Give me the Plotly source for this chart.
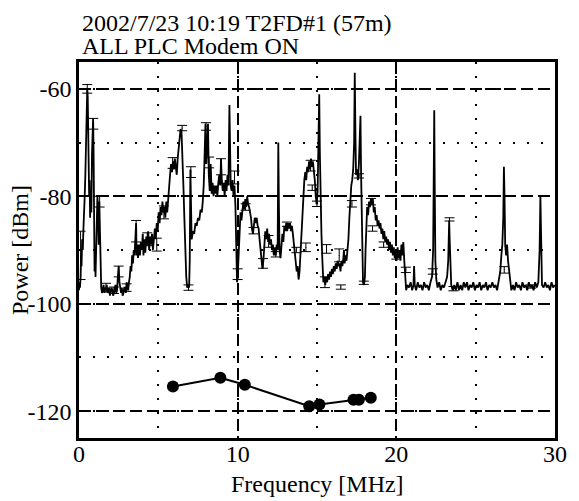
import plotly.graph_objects as go

# ---- spectrum trace (frequency MHz, power dBm) ----
SPEC_F = [
    0.00, 0.03, 0.06, 0.10, 0.13, 0.16, 0.20, 0.24, 0.28, 0.32,
    0.36, 0.40, 0.44, 0.48, 0.52, 0.55, 0.58, 0.61, 0.64, 0.67,
    0.70, 0.74, 0.78, 0.82, 0.86, 0.89, 0.92, 0.95, 0.98, 1.01,
    1.04, 1.08, 1.12, 1.16, 1.20, 1.24, 1.28, 1.32, 1.36, 1.40,
    1.45, 1.50, 1.55, 1.60, 1.65, 1.70, 1.75, 1.80, 1.85, 1.90,
    1.95, 2.00, 2.05, 2.10, 2.15, 2.20, 2.25, 2.30, 2.35, 2.40,
    2.45, 2.50, 2.55, 2.60, 2.65, 2.70, 2.75, 2.80, 2.85, 2.90,
    2.95, 3.00, 3.05, 3.10, 3.15, 3.20, 3.25, 3.30, 3.35, 3.40,
    3.45, 3.50, 3.55, 3.60, 3.63, 3.68, 3.72, 3.78, 3.84, 3.90,
    3.96, 4.02, 4.06, 4.12, 4.18, 4.24, 4.30, 4.36, 4.42, 4.48,
    4.54, 4.60, 4.66, 4.72, 4.78, 4.84, 4.90, 4.96, 5.02, 5.08,
    5.14, 5.20, 5.26, 5.32, 5.38, 5.44, 5.50, 5.56, 5.62, 5.68,
    5.74, 5.80, 5.86, 5.92, 5.98, 6.04, 6.10, 6.16, 6.22, 6.28,
    6.34, 6.40, 6.46, 6.52, 6.58, 6.64, 6.70, 6.76, 6.82, 6.88,
    6.94, 6.98, 7.02, 7.06, 7.10, 7.18, 7.26, 7.34, 7.42, 7.50,
    7.58, 7.66, 7.74, 7.80, 7.86, 7.92, 7.97, 8.02, 8.08, 8.13,
    8.18, 8.24, 8.30, 8.36, 8.42, 8.48, 8.54, 8.60, 8.66, 8.72,
    8.78, 8.84, 8.90, 8.95, 9.00, 9.06, 9.12, 9.18, 9.24, 9.30,
    9.36, 9.42, 9.48, 9.52, 9.56, 9.62, 9.68, 9.74, 9.80, 9.86,
    9.92, 9.96, 10.00, 10.04, 10.08, 10.12, 10.18, 10.24, 10.30, 10.36,
    10.42, 10.48, 10.54, 10.60, 10.66, 10.72, 10.78, 10.84, 10.90, 10.96,
    11.02, 11.08, 11.14, 11.20, 11.26, 11.32, 11.38, 11.44, 11.50, 11.56,
    11.62, 11.68, 11.74, 11.80, 11.86, 11.92, 11.98, 12.04, 12.10, 12.16,
    12.22, 12.28, 12.34, 12.40, 12.46, 12.52, 12.56, 12.60, 12.64, 12.70,
    12.76, 12.82, 12.88, 12.94, 13.00, 13.06, 13.12, 13.18, 13.24, 13.30,
    13.36, 13.42, 13.48, 13.54, 13.60, 13.66, 13.72, 13.78, 13.84, 13.90,
    13.96, 14.02, 14.08, 14.14, 14.20, 14.26, 14.32, 14.38, 14.44, 14.50,
    14.56, 14.62, 14.68, 14.74, 14.80, 14.86, 14.92, 14.98, 15.04, 15.10,
    15.14, 15.18, 15.22, 15.28, 15.34, 15.40, 15.46, 15.52, 15.58, 15.64,
    15.70, 15.76, 15.82, 15.88, 15.94, 16.00, 16.06, 16.12, 16.18, 16.24,
    16.30, 16.36, 16.42, 16.48, 16.54, 16.60, 16.66, 16.70, 16.74, 16.80,
    16.86, 16.92, 16.98, 17.04, 17.10, 17.16, 17.22, 17.28, 17.34, 17.38,
    17.42, 17.46, 17.52, 17.58, 17.64, 17.70, 17.74, 17.78, 17.82, 17.86,
    17.90, 17.96, 18.02, 18.06, 18.10, 18.16, 18.22, 18.28, 18.34, 18.40,
    18.46, 18.52, 18.58, 18.64, 18.70, 18.76, 18.82, 18.88, 18.94, 19.00,
    19.06, 19.12, 19.18, 19.24, 19.30, 19.36, 19.42, 19.48, 19.54, 19.60,
    19.66, 19.72, 19.78, 19.84, 19.90, 19.96, 20.02, 20.08, 20.14, 20.20,
    20.26, 20.32, 20.38, 20.44, 20.50, 20.56, 20.62, 20.70, 20.80, 20.90,
    21.00, 21.08, 21.12, 21.16, 21.25, 21.35, 21.45, 21.55, 21.65, 21.75,
    21.85, 21.95, 22.05, 22.15, 22.25, 22.32, 22.36, 22.39, 22.42, 22.46,
    22.52, 22.60, 22.70, 22.80, 22.90, 23.00, 23.10, 23.20, 23.27, 23.31,
    23.33, 23.36, 23.40, 23.46, 23.55, 23.65, 23.75, 23.85, 23.95, 24.05,
    24.15, 24.25, 24.35, 24.45, 24.55, 24.65, 24.75, 24.85, 24.95, 25.05,
    25.15, 25.25, 25.35, 25.45, 25.55, 25.65, 25.75, 25.85, 25.95, 26.05,
    26.15, 26.25, 26.35, 26.45, 26.55, 26.62, 26.68, 26.74, 26.78, 26.82,
    26.86, 26.92, 26.98, 27.04, 27.10, 27.18, 27.25, 27.35, 27.45, 27.55,
    27.65, 27.75, 27.85, 27.95, 28.05, 28.15, 28.25, 28.35, 28.45, 28.55,
    28.65, 28.75, 28.85, 28.95, 29.03, 29.08, 29.12, 29.18, 29.28, 29.38,
    29.48, 29.58, 29.68, 29.78, 29.88, 29.98,
]
SPEC_P = [
    -97.5, -96, -97, -95, -91, -93, -88, -90, -86, -84,
    -80, -76, -70, -63, -60, -61.5, -66, -74, -80, -77,
    -84, -79, -83, -72, -66, -65.5, -72, -84, -94, -90,
    -95, -88, -85, -80, -82, -89, -81, -86, -93, -97,
    -98, -97, -96.5, -98, -97, -97.5, -96.5, -98, -97.5, -97,
    -98.5, -98, -97, -97.5, -98.5, -98, -97, -96.5, -98, -97.5,
    -95, -93, -96, -97.5, -98, -97, -98.5, -98, -97, -97,
    -98, -96, -97, -97.5, -96, -95, -93, -94, -91, -92.5,
    -90, -91, -88, -85, -91, -89, -91.5, -89, -91, -88.5,
    -90, -87, -91, -88, -90.5, -87.5, -89, -86.5, -90, -87.5,
    -89, -87, -90, -88, -86, -88, -85, -86.5, -83, -85,
    -82, -83.5, -81, -83, -82, -84, -81, -83, -80, -78,
    -76, -74, -75.5, -73.5, -75, -73, -74.5, -76, -73, -71,
    -69, -67.5, -68, -72, -78, -84, -90, -95, -97, -96.5,
    -97, -92, -75, -86, -88, -86.5, -87, -85, -85.5, -84,
    -84.5, -82.5, -83, -81, -78, -72, -66.5, -74, -70, -66.5,
    -76, -79, -74, -79.5, -77.5, -80, -78, -79.5, -78, -80,
    -77.5, -76, -78, -73, -77, -79, -77.5, -80, -77, -79,
    -76, -78, -63, -72, -78, -79, -77, -80, -78, -82,
    -90, -96, -95, -92, -88, -86, -83, -84.5, -82, -81,
    -82.5, -80.5, -82, -80, -81.5, -82, -83, -84, -86, -87,
    -85.5, -84, -85, -84, -85.5, -86, -88, -90, -92, -93.5,
    -92, -89, -86.5, -88, -86, -88.5, -87, -89, -88, -90,
    -89, -91, -89.5, -91, -89, -90, -70, -82, -90, -91.5,
    -89, -87, -88.5, -85.5, -86.5, -85, -86.5, -85, -86, -85,
    -86.5, -85.5, -87, -89, -90.5, -92, -94, -93, -95.5, -94,
    -90, -86, -82, -79, -77, -75.5, -77, -74.5, -75.5, -73.5,
    -75, -73, -74.5, -73.5, -75, -77, -80, -81.5, -79, -70,
    -61, -72, -80, -87, -92, -96, -95, -96.5, -95, -96,
    -94.5, -95.5, -94, -95, -93.5, -94.5, -93, -94, -92.5, -93.5,
    -92, -93, -92.5, -94, -92, -93, -91.5, -90, -92.5, -91,
    -92, -90, -88, -84, -80, -78, -77, -75, -70, -57,
    -68, -76, -75, -77, -74, -66, -65, -76, -84, -92,
    -96, -96.5, -95, -90, -84, -82, -83.5, -81, -82, -80.5,
    -81.5, -80.5, -83, -82, -84.5, -83.5, -85.5, -84.5, -86, -85,
    -87, -86, -88, -86.5, -88.5, -87.5, -89, -88, -90, -88.5,
    -90.5, -89, -91, -89.5, -91.5, -90, -92, -89.5, -91.5, -90,
    -92, -89, -91, -88.5, -92, -96, -97.5, -96.5, -97, -96,
    -97.5, -96.5, -93, -96.5, -97.5, -96, -97, -96.5, -97.5, -96,
    -97, -96.5, -97.5, -96, -95, -90, -75, -64, -78, -92,
    -95.5, -97, -96, -97.5, -96.5, -97, -96, -95, -92, -86,
    -84.5, -88, -94, -96.5, -97.5, -96.5, -97.5, -96, -97.5, -96.5,
    -97.5, -96, -97, -96, -97.5, -96.5, -97, -96, -97.5, -96.5,
    -97, -96, -97.5, -96.5, -97, -96, -97.5, -96.5, -97, -96,
    -97, -96.5, -97.5, -96, -94, -91, -89, -84, -74.5, -80,
    -89, -91, -89, -92, -94, -96, -97.5, -96.5, -97.5, -96,
    -97, -96.5, -97.5, -96, -97, -96.5, -97.5, -96, -97, -96.5,
    -97.5, -96, -97, -96, -90, -80, -92, -96.5, -97, -96,
    -97, -96.5, -97.5, -96, -97, -96.5,
]
assert len(SPEC_F) == len(SPEC_P)

# ---- max/min hold caps (centre, +/- spread) ----
ERR_F = [0.10, 0.52, 0.90, 1.30, 1.70, 2.20, 2.50, 3.00, 3.60, 4.30,
         4.90, 5.35, 5.90, 6.50, 6.90, 7.05, 8.00, 8.20, 8.95, 9.80,
         10.00, 10.50, 11.00, 11.60, 11.95, 12.40, 13.10, 13.70, 14.30, 14.60,
         14.70, 15.00, 15.50, 15.60, 16.40, 16.50, 17.20, 17.65, 17.95, 18.40,
         18.50, 19.20, 20.00, 20.60, 22.30, 23.35, 23.60, 26.80, 28.50]
ERR_P = [-91, -60, -66.5, -81, -97, -97.5, -94, -97, -86.5, -88,
         -89, -83, -73.8, -67.3, -97, -75.5, -67, -73.7, -74.5, -76.5,
         -94.5, -82, -86.4, -92.5, -88.4, -90.8, -85.2, -90, -89.5, -74.3,
         -78.4, -81.4, -96, -89.8, -91, -96.9, -81.4, -76.2, -96.1, -81,
         -86, -89, -91, -93.7, -94, -84.3, -97.2, -93.7, -96.8]
ERR_E = [4.5, 0.8, 1, 1, 0.8, 0.6, 1, 0.7, 2, 1.2,
         1.2, 1.2, 1, 0.5, 0.5, 1, 0.7, 1, 1.5, 1.2,
         1, 0.6, 0.6, 0.9, 1.1, 0.5, 0.4, 0.5, 0.8, 1,
         0.5, 0.5, 1, 0.8, 1.2, 0.4, 0.6, 0.4, 0.3, 0.6,
         0.5, 0.5, 0.7, 0.5, 0.5, 0.3, 0.4, 0.6, 0.3]

# ---- measured points series ----
DOT_F = [5.92, 8.91, 10.45, 14.51, 15.15, 17.30, 17.64, 18.39]
DOT_P = [-115.4, -113.8, -115.1, -119.1, -118.75, -117.9, -117.9, -117.5]

X_TICKS = [0, 10, 20, 30]
X_TICKTEXT = ["0", "10", "20", "30"]
Y_TICKS = [-120, -100, -80, -60]
Y_TICKTEXT = ["-120", "-100", "-80", "-60"]

TITLE_1 = "2002/7/23 10:19 T2FD#1 (57m)"
TITLE_2 = "ALL PLC Modem ON"
X_TITLE = "Frequency [MHz]"
Y_TITLE = "Power [dBm]"

FONT = "Liberation Serif"

fig = go.Figure()
fig.add_trace(go.Scatter(x=SPEC_F, y=SPEC_P, mode="lines",
                         line=dict(color="black", width=1.8), hoverinfo="skip"))
fig.add_trace(go.Scatter(x=ERR_F, y=ERR_P, mode="markers",
                         marker=dict(size=1, color="black"),
                         error_y=dict(type="data", array=ERR_E, visible=True,
                                      color="black", thickness=1, width=5)))
fig.add_trace(go.Scatter(x=DOT_F, y=DOT_P, mode="lines+markers",
                         line=dict(color="black", width=2),
                         marker=dict(size=12, color="black")))

grid_major = dict(showgrid=True, gridcolor="black", gridwidth=2, griddash="12px,5px")

fig.update_xaxes(range=[0, 30], tickmode="array", tickvals=X_TICKS, ticktext=X_TICKTEXT,
                 ticks="", zeroline=False, ticklabelstandoff=-8,
                 showline=True, mirror=True, linecolor="black", linewidth=2.5,
                 minor=dict(tick0=0, dtick=5, showgrid=True, gridcolor="black", gridwidth=2,
                            griddash="2px,12px"),
                 tickfont=dict(family=FONT, size=24, color="black"),
                 **grid_major)
fig.update_yaxes(range=[-125, -55], tickmode="array", tickvals=Y_TICKS, ticktext=Y_TICKTEXT,
                 ticks="", zeroline=False,
                 showline=True, mirror=True, linecolor="black", linewidth=2.5,
                 minor=dict(tick0=0, dtick=10, showgrid=True, gridcolor="black", gridwidth=2,
                            griddash="2px,12px"),
                 tickfont=dict(family=FONT, size=24, color="black"),
                 **grid_major)

fig.update_layout(
    width=579, height=501,
    margin=dict(l=79, r=13, t=62, b=63),
    plot_bgcolor="white", paper_bgcolor="white",
    showlegend=False,
    font=dict(family=FONT, color="black"),
    annotations=[
        dict(text=TITLE_1, xref="paper", yref="paper", x=0, y=1, xanchor="left",
             yanchor="middle", xshift=1, yshift=39, showarrow=False,
             font=dict(family=FONT, size=24, color="black")),
        dict(text=TITLE_2, xref="paper", yref="paper", x=0, y=1, xanchor="left",
             yanchor="middle", xshift=1, yshift=16, showarrow=False,
             font=dict(family=FONT, size=24, color="black")),
        dict(text=X_TITLE, xref="paper", yref="paper", x=0.5, y=0, xanchor="center",
             yanchor="middle", yshift=-46, showarrow=False,
             font=dict(family=FONT, size=24, color="black")),
        dict(text=Y_TITLE, xref="paper", yref="paper", x=0, y=0.5, xanchor="center",
             yanchor="middle", xshift=-59, textangle=-90, showarrow=False,
             font=dict(family=FONT, size=24, color="black")),
    ],
)

fig.write_html("out.html")
